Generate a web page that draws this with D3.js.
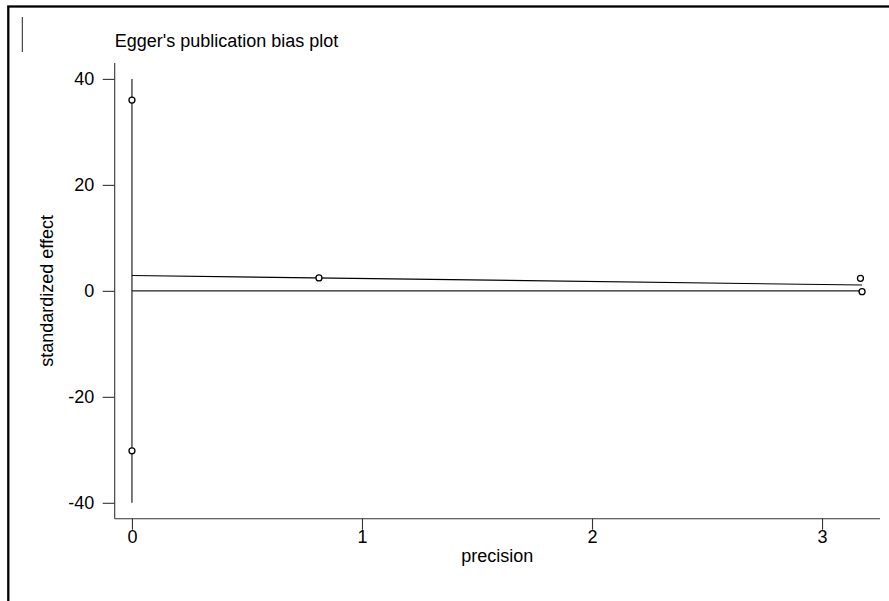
<!DOCTYPE html>
<html>
<head>
<meta charset="utf-8">
<script src="https://cdn.jsdelivr.net/npm/d3@7/dist/d3.min.js"></script>
<style>
  html, body { margin: 0; padding: 0; background: #fff; }
  svg { display: block; }
  text { font-family: "Liberation Sans", Arial, Helvetica, sans-serif; fill: #000; }
</style>
</head>
<body>
<svg id="chart" width="889" height="601"></svg>
<script>
// Egger regression: standardized effect (effect / SE) against precision (1 / SE)
const precision = [0.0, 0.0, 0.813, 3.167, 3.174];
const stdEffect = [36.0, -30.2, 2.43, 2.37, -0.16];

// Confidence bounds for the intercept, drawn at precision = 0
const interceptCI = [-40, 40];

const xTicks = [0, 1, 2, 3];
const yTicks = [-40, -20, 0, 20, 40];
const xDomain = [-0.075, 3.252];
const yDomain = [-43, 43];

const titleText = "Egger's publication bias plot";
const xLabel = "precision";
const yLabel = "standardized effect";

const svg = d3.select("#chart");
const W = 889, H = 601;
const plotLeft = 114.7, plotRight = 880, plotTop = 63, plotBottom = 518.7;

const x = d3.scaleLinear().domain(xDomain).range([plotLeft, plotRight]);
const y = d3.scaleLinear().domain(yDomain).range([plotBottom, plotTop]);

// plain hyphen for negative tick values
const fmt = d => String(d);

// outer frame
svg.append("rect")
  .attr("x", 8.3).attr("y", 6.5)
  .attr("width", W).attr("height", H)
  .attr("fill", "none").attr("stroke", "#000").attr("stroke-width", 2.3);

// small marker stroke at the top-left
svg.append("line")
  .attr("x1", 22.3).attr("x2", 22.3).attr("y1", 17).attr("y2", 52)
  .attr("stroke", "#222").attr("stroke-width", 1);

// title
svg.append("text")
  .attr("x", plotLeft).attr("y", 46.7)
  .attr("font-size", 18)
  .text(titleText);

// least-squares fit of standardized effect on precision
const n = precision.length;
const mx = d3.mean(precision), my = d3.mean(stdEffect);
let sxy = 0, sxx = 0;
for (let i = 0; i < n; i++) {
  sxy += (precision[i] - mx) * (stdEffect[i] - my);
  sxx += (precision[i] - mx) ** 2;
}
const slope = sxy / sxx;
const intercept = my - slope * mx;
const xMax = d3.max(precision);

// axes
const yAxis = d3.axisLeft(y).tickValues(yTicks).tickSize(12).tickPadding(8.5)
  .tickFormat(fmt);
const gy = svg.append("g").attr("transform", `translate(${plotLeft},0)`).call(yAxis);

const xAxis = d3.axisBottom(x).tickValues(xTicks).tickSize(11).tickPadding(0.5)
  .tickFormat(fmt);
const gx = svg.append("g").attr("transform", `translate(0,${plotBottom})`).call(xAxis);

[gx, gy].forEach(g => {
  g.select(".domain").attr("stroke", "#333").attr("stroke-width", 1.1);
  g.selectAll(".tick line").attr("stroke", "#333").attr("stroke-width", 1.1);
  g.selectAll(".tick text").attr("font-size", 18)
    .attr("font-family", "'Liberation Sans', Arial, sans-serif").attr("fill", "#000");
});
// plain axis lines without end caps
gy.select(".domain").attr("d", `M0,${plotTop}V${plotBottom}`);
gx.select(".domain").attr("d", `M${plotLeft},0H${plotRight}`);

// axis titles
svg.append("text")
  .attr("x", (plotLeft + plotRight) / 2).attr("y", 562)
  .attr("text-anchor", "middle").attr("font-size", 18)
  .text(xLabel);

svg.append("text")
  .attr("transform", `translate(53,${(plotTop + plotBottom) / 2}) rotate(-90)`)
  .attr("text-anchor", "middle").attr("font-size", 18)
  .text(yLabel);

// intercept interval at precision 0
svg.append("line")
  .attr("x1", x(0)).attr("x2", x(0))
  .attr("y1", y(interceptCI[1])).attr("y2", y(interceptCI[0]))
  .attr("stroke", "#111").attr("stroke-width", 1.1);

// zero reference line
svg.append("line")
  .attr("x1", x(0)).attr("x2", x(xMax))
  .attr("y1", y(0)).attr("y2", y(0))
  .attr("stroke", "#222").attr("stroke-width", 1.1);

// fitted regression line
svg.append("line")
  .attr("x1", x(0)).attr("x2", x(xMax))
  .attr("y1", y(intercept)).attr("y2", y(intercept + slope * xMax))
  .attr("stroke", "#000").attr("stroke-width", 1.1);

// study markers
svg.append("g").selectAll("circle")
  .data(precision.map((p, i) => ({ p, e: stdEffect[i] })))
  .join("circle")
  .attr("cx", d => x(d.p)).attr("cy", d => y(d.e))
  .attr("r", 3)
  .attr("fill", "#fff").attr("stroke", "#000").attr("stroke-width", 1.3);
</script>
</body>
</html>
